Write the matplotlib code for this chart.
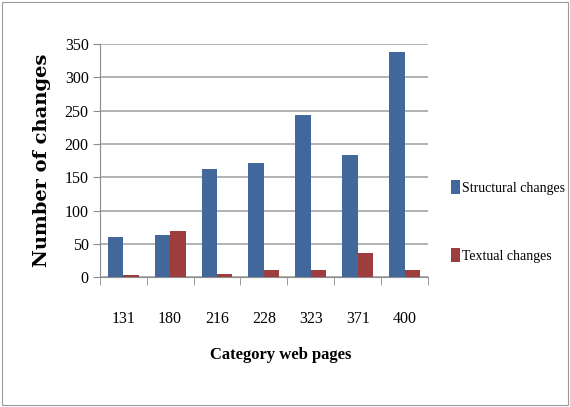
import matplotlib

matplotlib.use("Agg")
import matplotlib.pyplot as plt
import numpy as np
from matplotlib.patches import Patch, Rectangle

# Changes observed per category of web pages
categories = ["131", "180", "216", "228", "323", "371", "400"]
structural = [61, 64, 162, 171, 243, 183, 338]
textual = [4, 70, 5, 11, 11, 36, 11]

BLUE = "#41679B"
RED = "#9C3D3E"

plt.rcParams["font.family"] = ["Liberation Serif", "DejaVu Serif"]

fig = plt.figure(figsize=(5.7, 4.07), dpi=100)
fig.patches.append(Rectangle((0.004, 0.005), 0.992, 0.99, transform=fig.transFigure,
                             fill=False, edgecolor="#9a9a9a", linewidth=0.8))

ax = fig.add_axes([0.175, 0.319, 0.576, 0.573])
x = np.arange(len(categories))
w = 0.33
ax.bar(x - w / 2, structural, width=w, color=BLUE, zorder=3)
ax.bar(x + w / 2, textual, width=w, color=RED, zorder=3)

ax.set_xlim(-0.5, len(categories) - 0.5)
ax.set_ylim(0, 350)
ax.set_yticks(range(0, 351, 50))
ax.yaxis.grid(True, color="#a6a6a6", linewidth=1.2, zorder=0)
ax.set_axisbelow(True)

for side in ["top", "right"]:
    ax.spines[side].set_visible(False)
ax.spines["left"].set_color("#8c8c8c")
ax.spines["bottom"].set_color("#8c8c8c")

ax.set_xticks(x)
ax.set_xticklabels(categories, fontsize=11.5)
ax.tick_params(axis="x", length=0, pad=24)
ax.set_xticks(np.arange(-0.5, len(categories), 1), minor=True)
ax.tick_params(axis="x", which="minor", length=6, color="#8c8c8c", direction="out")
ax.tick_params(axis="y", length=5, color="#8c8c8c", labelsize=11.5, pad=3)

ax.set_xlabel("Category web pages", fontsize=12, fontweight="bold")
ax.xaxis.set_label_coords(0.552, -0.30)
ax.set_ylabel("Number of changes", fontsize=14, fontweight="bold",
              family=["DejaVu Serif"])
ax.yaxis.set_label_coords(-0.15, 0.5)

handles = [Patch(facecolor=BLUE, label="Structural changes"),
           Patch(facecolor=RED, label="Textual changes")]
fig.legend(handles=handles, loc="center left", bbox_to_anchor=(0.770, 0.456),
           frameon=False, fontsize=10, labelspacing=3.8,
           handlelength=0.6, handleheight=1.2, handletextpad=0.15)

fig.savefig("out.png", dpi=100)
